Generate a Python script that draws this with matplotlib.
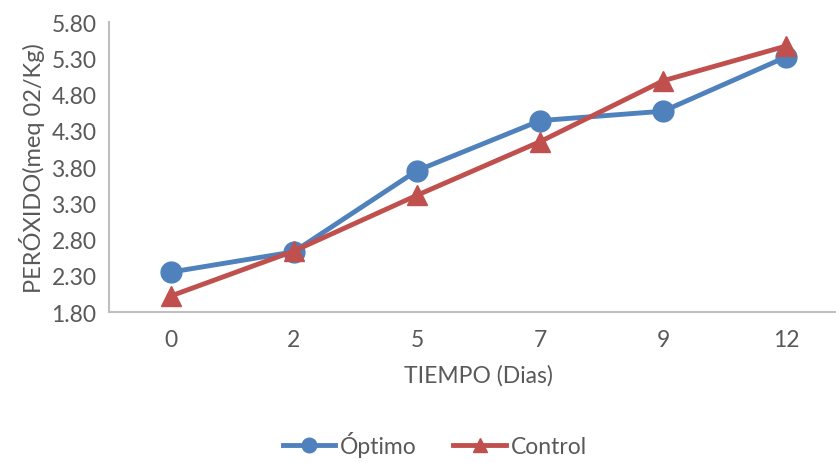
import matplotlib.pyplot as plt

dias = ["0", "2", "5", "7", "9", "12"]
optimo = [2.35, 2.63, 3.75, 4.44, 4.57, 5.32]
control = [2.02, 2.64, 3.41, 4.15, 4.99, 5.47]
y_ticks = [1.80, 2.30, 2.80, 3.30, 3.80, 4.30, 4.80, 5.30, 5.80]

plt.rcParams['font.family'] = ['Lato', 'DejaVu Sans']
gray_txt = "#595959"

fig = plt.figure(figsize=(8.36, 4.64), dpi=100)
ax = fig.add_axes([0.1304, 0.3254, 0.884, 0.625])

x = range(len(dias))
ax.plot(x, optimo, color="#4F81BD", lw=3.5, marker="o", ms=15, label="Óptimo", zorder=3)
ax.plot(x, control, color="#C0504D", lw=3.5, marker="^", ms=15, label="Control", zorder=4)

ax.set_xlim(-0.5, 5.5)
ax.set_ylim(1.80, 5.80)
ax.set_xticks(list(x))
ax.set_xticklabels(dias)
ax.set_yticks(y_ticks)
ax.set_yticklabels([f"{v:.2f}" for v in y_ticks])
ax.tick_params(length=0, labelsize=16.5, colors=gray_txt, pad=9)
ax.tick_params(axis='x', pad=12)

for s in ["top", "right"]:
    ax.spines[s].set_visible(False)
for s in ["left", "bottom"]:
    ax.spines[s].set_color("#BFBFBF")
    ax.spines[s].set_linewidth(1.5)

ax.set_xlabel("TIEMPO (Dias)", fontsize=16.5, color=gray_txt, labelpad=10)
ax.set_ylabel("PERÓXIDO(meq 02/Kg)", fontsize=17, color=gray_txt, labelpad=5)

fig.legend(loc="center", bbox_to_anchor=(0.52, 0.04), ncol=2, frameon=False,
           fontsize=16.5, labelcolor=gray_txt, handlelength=2.3, columnspacing=1.6,
           markerscale=0.7, handletextpad=0.2)

fig.savefig("out.png", dpi=100)
